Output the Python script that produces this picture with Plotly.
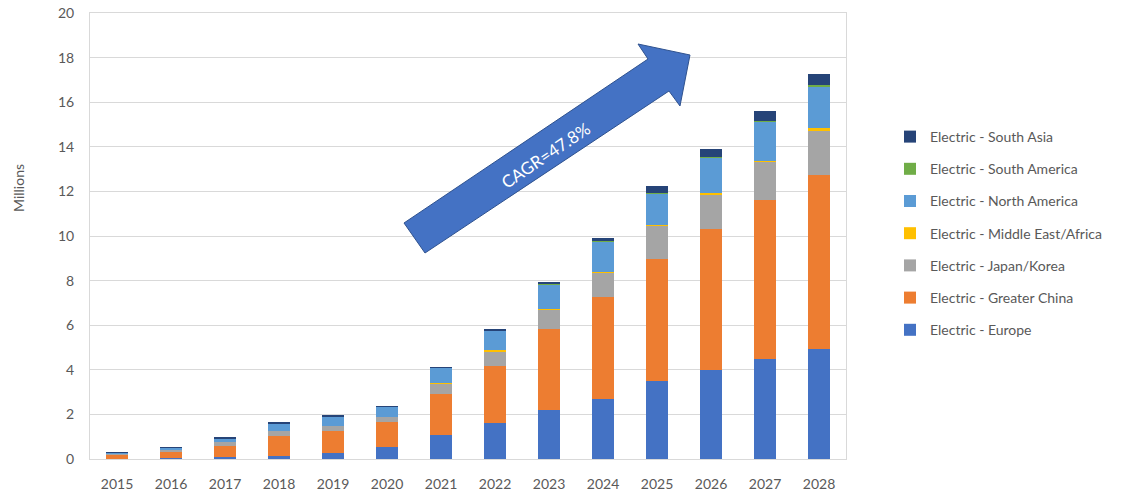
import plotly.graph_objects as go

# Annual electric vehicle sales by region, millions of units
years = ["2015", "2016", "2017", "2018", "2019", "2020", "2021",
         "2022", "2023", "2024", "2025", "2026", "2027", "2028"]

europe = [0.02, 0.06, 0.08, 0.15, 0.27, 0.56, 1.09,
          1.61, 2.21, 2.70, 3.51, 3.97, 4.47, 4.93]
greater_china = [0.17, 0.27, 0.52, 0.88, 0.99, 1.10, 1.84,
                 2.57, 3.62, 4.55, 5.45, 6.36, 7.13, 7.82]
japan_korea = [0.04, 0.09, 0.18, 0.21, 0.23, 0.24, 0.45,
               0.66, 0.87, 1.12, 1.50, 1.55, 1.72, 1.97]
middle_east_africa = [0.00, 0.00, 0.00, 0.00, 0.00, 0.00, 0.02,
                      0.03, 0.03, 0.03, 0.05, 0.05, 0.06, 0.12]
north_america = [0.07, 0.09, 0.16, 0.37, 0.43, 0.44, 0.69,
                 0.90, 1.10, 1.34, 1.40, 1.60, 1.76, 1.88]
south_america = [0.00, 0.00, 0.00, 0.00, 0.00, 0.00, 0.00,
                 0.00, 0.01, 0.02, 0.02, 0.03, 0.03, 0.05]
south_asia = [0.01, 0.01, 0.01, 0.02, 0.02, 0.02, 0.02,
              0.06, 0.11, 0.15, 0.31, 0.34, 0.42, 0.49]

series = [
    ("Electric - Europe", europe, "#4472C4"),
    ("Electric - Greater China", greater_china, "#ED7D31"),
    ("Electric - Japan/Korea", japan_korea, "#A5A5A5"),
    ("Electric - Middle East/Africa", middle_east_africa, "#FFC000"),
    ("Electric - North America", north_america, "#5B9BD5"),
    ("Electric - South America", south_america, "#70AD47"),
    ("Electric - South Asia", south_asia, "#264478"),
]

cagr_label = "CAGR=47.8%"

FONT = "Lato, 'Open Sans', sans-serif"
TEXT = "#595959"
GRID = "#D9D9D9"

W, H = 1128, 492
L, R, T, B = 90, 282, 13, 33

fig = go.Figure()
n = len(series)
for i, (name, vals, color) in enumerate(series):
    # stack bottom-up, list top-down in the legend
    fig.add_trace(go.Bar(
        x=years, y=vals, name=name, legendgroup=name,
        legendrank=n - i,
        marker=dict(color=color, line=dict(width=0)),
    ))


def px_to_paper(px, py):
    return ((px - L) / (W - L - R), (H - B - py) / (H - T - B))


# Block arrow pointing up-right across the chart
arrow_px = [(404, 223), (648, 59), (638, 44), (690, 55),
            (680, 106), (669, 91), (425, 253)]
pts = [px_to_paper(x, y) for x, y in arrow_px]
path = "M " + " L ".join(f"{x:.5f},{y:.5f}" for x, y in pts) + " Z"
fig.add_shape(type="path", xref="paper", yref="paper", path=path,
              fillcolor="#4472C4", line=dict(color="#2F528F", width=1),
              layer="above")

tx, ty = px_to_paper(545, 155)
fig.add_annotation(x=tx, y=ty, xref="paper", yref="paper", text=cagr_label,
                   xanchor="center", yanchor="middle",
                   showarrow=False, textangle=-34,
                   font=dict(family=FONT, size=17, color="white"))

# Vertical axis caption
mx, my = px_to_paper(18, 188)
fig.add_annotation(x=mx, y=my, xref="paper", yref="paper", text="Millions",
                   xanchor="center", yanchor="middle",
                   showarrow=False, textangle=-90,
                   font=dict(family=FONT, size=14, color=TEXT))

lx, ly = px_to_paper(890, 121)

fig.update_layout(
    width=W, height=H,
    margin=dict(l=L, r=R, t=T, b=B, autoexpand=False),
    barmode="stack",
    bargap=0.59,
    plot_bgcolor="white",
    paper_bgcolor="white",
    font=dict(family=FONT, size=14, color=TEXT),
    showlegend=True,
    legend=dict(
        traceorder="grouped",
        tracegroupgap=11,
        x=lx, xanchor="left",
        y=ly, yanchor="top",
        font=dict(family=FONT, size=14, color=TEXT),
        itemwidth=30,
        bgcolor="rgba(0,0,0,0)",
    ),
    xaxis=dict(
        type="category",
        automargin=False,
        showgrid=False,
        showline=True, linecolor=GRID, linewidth=1, mirror=True,
        ticks="outside", ticklen=12, tickcolor="rgba(0,0,0,0)",
        tickfont=dict(family=FONT, size=14, color=TEXT),
    ),
    yaxis=dict(
        automargin=False,
        range=[0, 20], dtick=2,
        showgrid=True, gridcolor=GRID, gridwidth=1,
        showline=True, linecolor=GRID, linewidth=1, mirror=True,
        zeroline=False,
        ticks="outside", ticklen=12, tickcolor="rgba(0,0,0,0)",
        tickfont=dict(family=FONT, size=14, color=TEXT),
    ),
)

fig.write_html("out.html")
